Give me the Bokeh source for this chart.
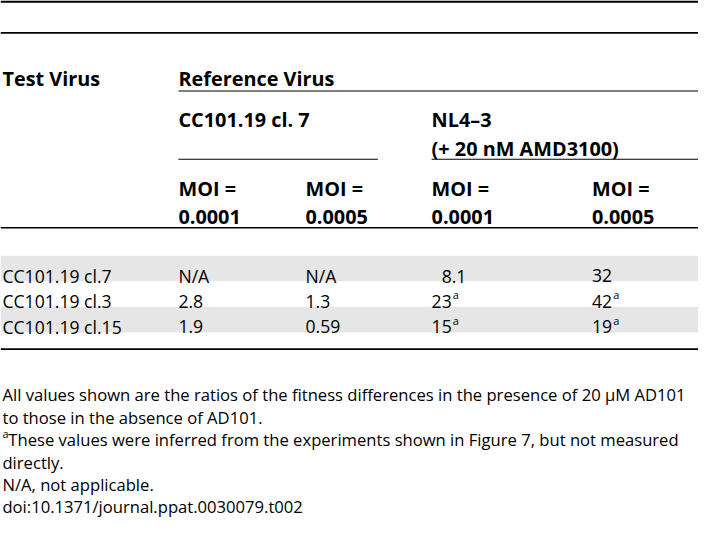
from bokeh.plotting import figure
from bokeh.models import Range1d, ColumnDataSource
from bokeh.core.properties import value
from bokeh.embed import file_html
from bokeh.resources import INLINE

# ---- table content ----
col_header_test = "Test Virus"
col_header_ref = "Reference Virus"
group_labels = ["CC101.19 cl. 7", "NL4\u20133"]
group_sub = ["", "(+ 20 nM AMD3100)"]
moi_labels = ["MOI =", "MOI =", "MOI =", "MOI ="]
moi_values = ["0.0001", "0.0005", "0.0001", "0.0005"]

test_viruses = ["CC101.19 cl.7", "CC101.19 cl.3", "CC101.19 cl.15"]
cc7_moi1 = ["N/A", "2.8", "1.9"]
cc7_moi5 = ["N/A", "1.3", "0.59"]
nl43_moi1 = ["\u20078.1", "23", "15"]
nl43_moi5 = ["32", "42", "19"]
nl43_moi1_note = ["", "a", "a"]
nl43_moi5_note = ["", "a", "a"]

footnotes = [
    ("", "All values shown are the ratios of the fitness differences in the presence of 20 \u03bcM AD101"),
    ("", "to those in the absence of AD101."),
    ("a", "These values were inferred from the experiments shown in Figure 7, but not measured"),
    ("", "directly."),
    ("", "N/A, not applicable."),
    ("", "doi:10.1371/journal.ppat.0030079.t002"),
]

# ---- layout (reference pixel space) ----
W, H = 714, 549
PW, PH = 698, 523
S = PW / W
FS_BODY = 18 * S
FS_BOLD = 20.3 * S
FS_FOOT = 17.0 * S
FONT = "Open Sans"

p = figure(width=PW, height=PH, output_backend="svg", toolbar_location=None,
           x_range=Range1d(0, W), y_range=Range1d(H, 0),
           min_border=0, outline_line_color=None, background_fill_color="white",
           border_fill_color="white")
p.axis.visible = False
p.grid.visible = False

col_x = [2, 182, 312, 441, 605]


def txt(xs, ys, texts, bold=False, size=FS_BODY):
    src = ColumnDataSource(dict(x=xs, y=ys, t=texts))
    p.text(x="x", y="y", text="t", source=src, text_font=value(FONT),
           text_font_size=f"{size:.2f}px", text_font_style="bold" if bold else "normal",
           text_color="black", text_baseline="alphabetic", text_align="left")


# rules
p.segment(x0=[0, 0, 0, 0], x1=[W, W, W, W], y0=[1.2, 34, 238.5, 366], y1=[1.2, 34, 238.5, 366],
          line_color="black", line_width=[2.2, 1.6, 1.6, 1.8])
p.segment(x0=[182, 182, 441], x1=[W, 386, W], y0=[95, 166.7, 166.7], y1=[95, 166.7, 166.7],
          line_color="black", line_width=1.1)

# header
txt([col_x[0], col_x[1]], [82, 82], [col_header_test, col_header_ref], bold=True, size=FS_BOLD)
txt([col_x[1], col_x[3]], [125, 125], group_labels, bold=True, size=FS_BOLD)
txt([col_x[3]], [155], [group_sub[1]], bold=True, size=FS_BOLD)
txt(col_x[1:], [197] * 4, moi_labels, bold=True, size=FS_BOLD)
txt(col_x[1:], [227] * 4, moi_values, bold=True, size=FS_BOLD)

# body rows
row_top0, row_h = 268, 26.8
n = len(test_viruses)
band_i = [i for i in range(n) if i % 2 == 0]
p.quad(left=0, right=W, top=[row_top0 + i * row_h for i in band_i],
       bottom=[row_top0 + (i + 1) * row_h for i in band_i],
       fill_color="#e6e6e6", line_color=None)
base = [row_top0 + i * row_h + 21 for i in range(n)]
txt([col_x[0]] * n, base, test_viruses)
txt([col_x[1]] * n, base, cc7_moi1)
txt([col_x[2]] * n, base, cc7_moi5)
txt([col_x[3]] * n, base, nl43_moi1)
txt([col_x[4]] * n, base, nl43_moi5)

digit_w = 10.6
for cx, vals, notes in [(col_x[3], nl43_moi1, nl43_moi1_note), (col_x[4], nl43_moi5, nl43_moi5_note)]:
    xs, ys, ts = [], [], []
    for i, (v, nt) in enumerate(zip(vals, notes)):
        if nt:
            xs.append(cx + len(v) * digit_w + 0.5)
            ys.append(base[i] - 7)
            ts.append(nt)
    txt(xs, ys, ts, size=FS_BODY * 0.62)

# footnotes
fn_base0, fn_step = 414, 23.5
sx, sy, st, mx, my, mt = [], [], [], [], [], []
for i, (sup, line) in enumerate(footnotes):
    y = fn_base0 + i * fn_step
    if sup:
        sx.append(2); sy.append(y - 6.5); st.append(sup)
        mx.append(8)
    else:
        mx.append(2)
    my.append(y); mt.append(line)
txt(mx, my, mt, size=FS_FOOT)
txt(sx, sy, st, size=FS_FOOT * 0.65)

open("out.html", "w").write(file_html(p, INLINE))
